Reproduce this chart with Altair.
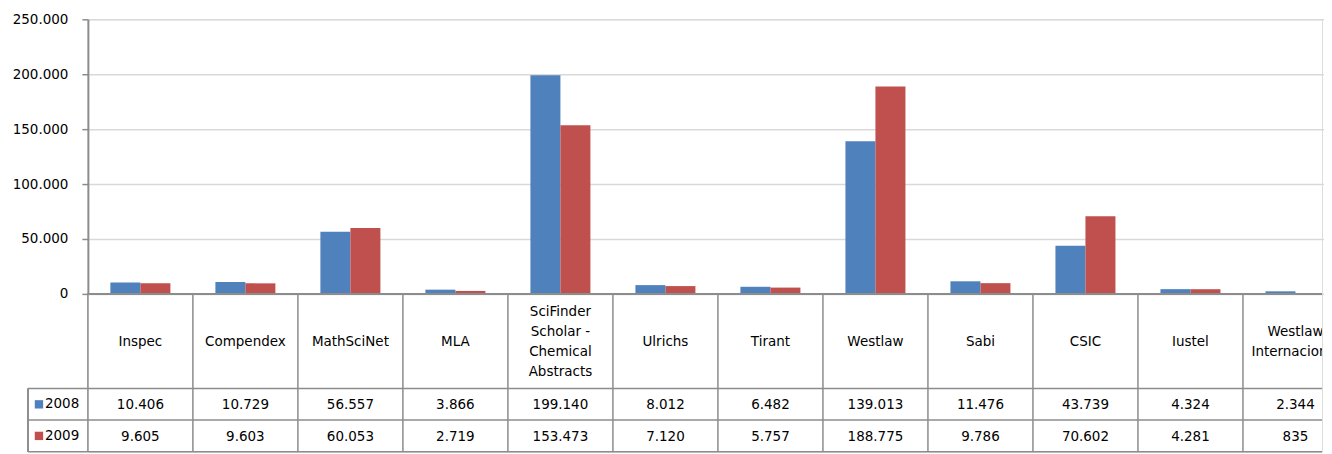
import altair as alt
import pandas as pd

categories = ["Inspec", "Compendex", "MathSciNet", "MLA",
              "SciFinder Scholar - Chemical Abstracts", "Ulrichs", "Tirant",
              "Westlaw", "Sabi", "CSIC", "Iustel", "Westlaw Internacional"]
category_labels = ["Inspec", "Compendex", "MathSciNet", "MLA",
                   "SciFinder\nScholar -\nChemical\nAbstracts", "Ulrichs", "Tirant",
                   "Westlaw", "Sabi", "CSIC", "Iustel", "Westlaw\nInternacional"]
values_2008 = [10406, 10729, 56557, 3866, 199140, 8012, 6482, 139013, 11476, 43739, 4324, 2344]
values_2009 = [9605, 9603, 60053, 2719, 153473, 7120, 5757, 188775, 9786, 70602, 4281, 835]
years = ["2008", "2009"]
colors = ["#4F81BD", "#C0504D"]
y_ticks = [0, 50000, 100000, 150000, 200000, 250000]

FONT = "DejaVu Sans"
FS = 13.5
W = 1236          # visible plot width
FULL = 1262       # full width of the 12 categories (last one runs off the page)
H_TOP = 275
H_TAB = 158
LH = 20
GRID = "#d9d9d9"
LINE = "#8c8c8c"


def fmt(v):
    return f"{v:,}".replace(",", ".")


rows = []
for c, lab, a, b in zip(categories, category_labels, values_2008, values_2009):
    rows.append({"cat": c, "year": "2008", "value": a, "txt": fmt(a), "row": 3.5})
    rows.append({"cat": c, "year": "2009", "value": b, "txt": fmt(b), "row": 4.5})
df = pd.DataFrame(rows)
cat_df = pd.DataFrame({"cat": categories, "label": category_labels,
                       "nlines": [lab.count("\n") + 1 for lab in category_labels],
                       "mid": [1.5] * len(categories)})
year_df = pd.DataFrame({"year": years, "row": [3.5, 4.5]})
hline_df = pd.DataFrame({"pos": [3, 4, 5]})

x_scale = alt.Scale(domain=categories, range=[0, FULL], paddingInner=0, paddingOuter=0)
color_scale = alt.Scale(domain=years, range=colors)

bars = alt.Chart(df).mark_bar(clip=True).encode(
    x=alt.X("cat:N", scale=x_scale, axis=None, sort=categories),
    xOffset=alt.XOffset("year:N", scale=alt.Scale(domain=years, paddingOuter=0.75, paddingInner=0)),
    y=alt.Y("value:Q", scale=alt.Scale(domain=[0, 250000], nice=False),
            axis=alt.Axis(values=y_ticks, title=None,
                          labelExpr="replace(format(datum.value, ','), ',', '.')",
                          labelFont=FONT, labelFontSize=FS, labelColor="#000000",
                          labelPadding=14, tickSize=6, tickColor=LINE, tickWidth=1.5,
                          domainColor=LINE, domainWidth=2,
                          grid=True, gridColor=GRID, gridWidth=1.5)),
    color=alt.Color("year:N", scale=color_scale, legend=None),
).properties(width=W, height=H_TOP)

ty = alt.Scale(domain=[0, 5], reverse=True, nice=False)

vlines = alt.Chart(cat_df).mark_rule(color=LINE, strokeWidth=1.5).encode(
    x=alt.X("cat:N", scale=x_scale, axis=None, bandPosition=0, sort=categories),
    y=alt.Y(datum=0, scale=ty, axis=None),
    y2=alt.Y2(datum=5),
)
top_line = alt.Chart(cat_df).mark_rule(color=LINE, strokeWidth=2).encode(
    x=alt.value(0), x2=alt.value(W),
    y=alt.Y(datum=0, scale=ty, axis=None),
)
hlines = alt.Chart(hline_df).mark_rule(color=LINE, strokeWidth=1.5).encode(
    x=alt.value(-60), x2=alt.value(W),
    y=alt.Y("pos:Q", scale=ty, axis=None),
)
left_box = alt.Chart(hline_df).mark_rule(color=LINE, strokeWidth=1.5).encode(
    x=alt.value(-60),
    y=alt.Y(datum=3, scale=ty, axis=None),
    y2=alt.Y2(datum=5),
)


def cat_text_layer(n):
    return alt.Chart(cat_df).transform_filter(alt.datum.nlines == n).mark_text(
        font=FONT, fontSize=FS, color="#000000", lineBreak="\n", lineHeight=LH,
        clip=True, align="center", baseline="middle", dy=-(n - 1) * LH / 2 + 1,
    ).encode(
        x=alt.X("cat:N", scale=x_scale, axis=None, bandPosition=0.5, sort=categories),
        y=alt.Y("mid:Q", scale=ty, axis=None),
        text="label:N",
    )


val_text = alt.Chart(df).mark_text(font=FONT, fontSize=FS, color="#000000", clip=True,
                                   align="center", baseline="middle", dy=1).encode(
    x=alt.X("cat:N", scale=x_scale, axis=None, bandPosition=0.5, sort=categories),
    y=alt.Y("row:Q", scale=ty, axis=None),
    text="txt:N",
)
legend_sq = alt.Chart(year_df).mark_point(shape="square", filled=True, size=70, opacity=1).encode(
    x=alt.value(-49),
    y=alt.Y("row:Q", scale=ty, axis=None),
    color=alt.Color("year:N", scale=color_scale, legend=None),
)
legend_txt = alt.Chart(year_df).mark_text(font=FONT, fontSize=FS, color="#000000",
                                          align="left", baseline="middle").encode(
    x=alt.value(-43),
    y=alt.Y("row:Q", scale=ty, axis=None),
    text="year:N",
)

table = alt.layer(vlines, hlines, left_box, top_line,
                  cat_text_layer(1), cat_text_layer(2), cat_text_layer(4),
                  val_text, legend_sq, legend_txt).properties(width=W, height=H_TAB)

chart = alt.vconcat(bars, table, spacing=0, bounds="flush").properties(
    padding={"left": 3, "top": 3, "right": 0, "bottom": 0}
).configure_view(stroke=None).configure(background="white")

chart.save("out.html", embed_options={"renderer": "svg", "actions": False})
